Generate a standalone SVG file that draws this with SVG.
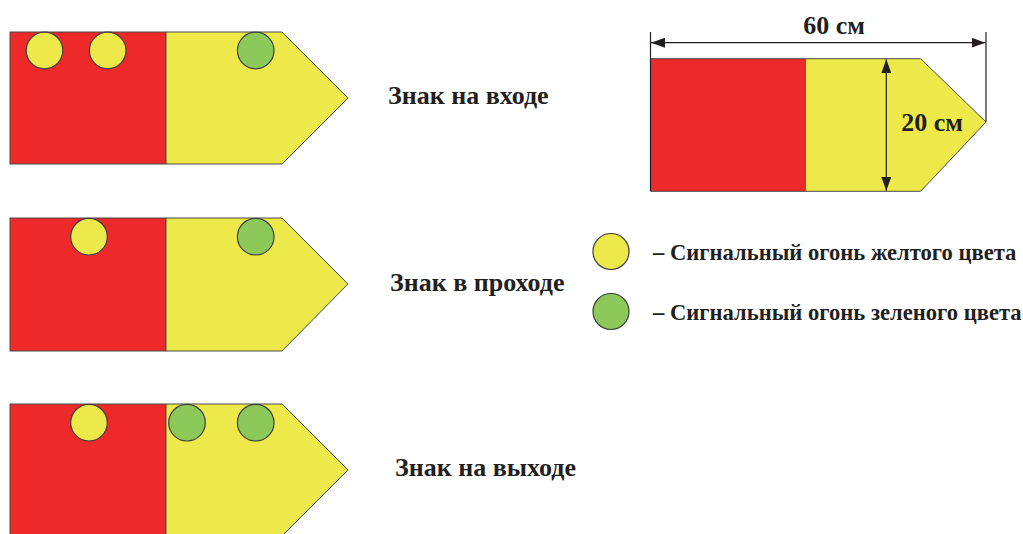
<svg xmlns="http://www.w3.org/2000/svg" width="1023" height="534" viewBox="0 0 1023 534">
<style>
.red{fill:#ED2A29;stroke:#4a4a4a;stroke-width:1}
.yel{fill:#EEE94A;stroke:#4a4a4a;stroke-width:1}
.lamp-y{fill:#EEE94A;stroke:#3f3f3f;stroke-width:1.2}
.lamp-g{fill:#8DC85A;stroke:#3f3f3f;stroke-width:1.2}
.lbl{font-family:"Liberation Serif","Times New Roman",serif;font-weight:bold;font-size:26px;fill:#231f20}
.leg{font-family:"Liberation Serif","Times New Roman",serif;font-weight:bold;font-size:22.6px;fill:#231f20}
.dim{stroke:#231f20;stroke-width:1.2;fill:none}
</style>
<defs>
<marker id="ah" viewBox="0 0 14 10" refX="14" refY="5" markerWidth="14" markerHeight="10" markerUnits="userSpaceOnUse" orient="auto-start-reverse">
<path d="M0,0 L14,5 L0,10 Z" fill="#231f20"/>
</marker>
</defs>
<rect width="1023" height="534" fill="#ffffff"/>

<g id="sign-entry">
<rect class="red" x="10" y="32" width="156" height="132"/>
<polygon class="yel" points="166,32 282,32 348,98 282,164 166,164"/>
<circle class="lamp-y" cx="44.5" cy="50.5" r="18.3"/>
<circle class="lamp-y" cx="107.7" cy="50.5" r="18.3"/>
<circle class="lamp-g" cx="255.7" cy="50.5" r="18.3"/>
</g>
<text class="lbl" x="388" y="104">Знак на входе</text>

<g id="sign-pass">
<rect class="red" x="10" y="218" width="156" height="133"/>
<polygon class="yel" points="166,218 282,218 348,284 282,351 166,351"/>
<circle class="lamp-y" cx="89" cy="236.7" r="18.3"/>
<circle class="lamp-g" cx="255.7" cy="236.7" r="18.3"/>
</g>
<text class="lbl" x="390" y="291">Знак в проходе</text>

<g id="sign-exit">
<rect class="red" x="10" y="404" width="156" height="134"/>
<polygon class="yel" points="166,404 282,404 348,470 282,536 166,536"/>
<circle class="lamp-y" cx="89" cy="422.7" r="18.3"/>
<circle class="lamp-g" cx="187" cy="422.7" r="18.3"/>
<circle class="lamp-g" cx="255.7" cy="422.7" r="18.3"/>
</g>
<text class="lbl" x="395" y="476">Знак на выходе</text>

<g id="sign-dimensioned">
<rect x="650.5" y="58.7" width="155.5" height="132.6" fill="#ED2A29"/>
<polygon points="806,58.7 920.7,58.7 986,122 920.7,191.3 806,191.3" fill="#EEE94A"/>
<line x1="650.5" y1="58.7" x2="920.7" y2="58.7" stroke="#4a4a4a" stroke-width="1"/>
<line x1="650.5" y1="191.3" x2="920.7" y2="191.3" stroke="#4a4a4a" stroke-width="1"/>
<line x1="920.7" y1="58.7" x2="986" y2="122" stroke="#4a4a4a" stroke-width="1"/>
<line x1="986" y1="122" x2="920.7" y2="191.3" stroke="#4a4a4a" stroke-width="1"/>
</g>

<g id="dimensions">
<line class="dim" x1="650.5" y1="32" x2="650.5" y2="191.3"/>
<line class="dim" x1="986" y1="32" x2="986" y2="122"/>
<line class="dim" x1="651" y1="42.7" x2="985.5" y2="42.7" marker-start="url(#ah)" marker-end="url(#ah)"/>
<line class="dim" x1="886.3" y1="59.2" x2="886.3" y2="190.8" marker-start="url(#ah)" marker-end="url(#ah)"/>
<text class="lbl" x="834" y="34" text-anchor="middle">60 см</text>
<text class="lbl" x="932" y="131" text-anchor="middle">20 см</text>
</g>

<g id="legend">
<circle class="lamp-y" cx="611" cy="251.5" r="18"/>
<text class="leg" x="653" y="260">– Сигнальный огонь желтого цвета</text>
<circle class="lamp-g" cx="611" cy="311.5" r="18"/>
<text class="leg" x="653" y="320">– Сигнальный огонь зеленого цвета</text>
</g>
</svg>
